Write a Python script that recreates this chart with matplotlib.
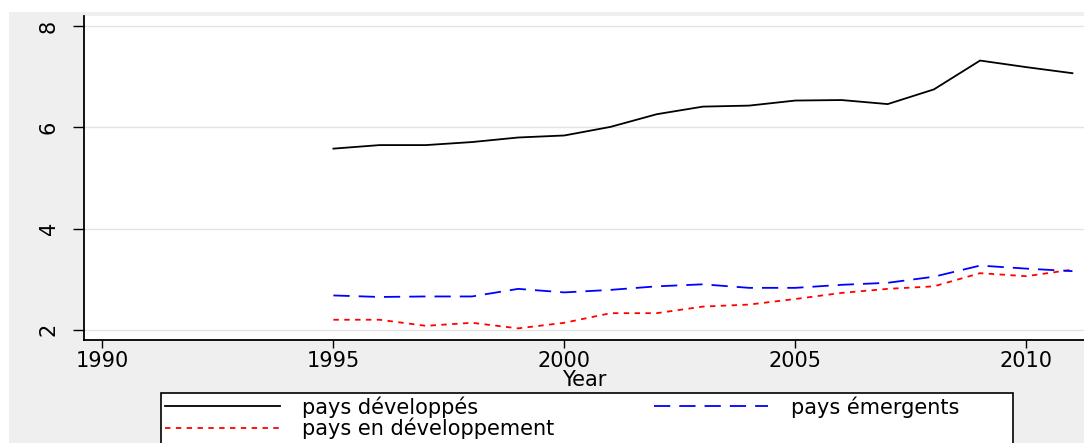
import matplotlib.pyplot as plt
from matplotlib.patches import Rectangle

years = list(range(1995, 2012))
developed = [5.58, 5.65, 5.65, 5.71, 5.80, 5.84, 6.01, 6.26, 6.41, 6.43, 6.53, 6.54, 6.46, 6.75, 7.32, 7.19, 7.07]
emerging = [2.68, 2.65, 2.66, 2.66, 2.81, 2.74, 2.79, 2.86, 2.90, 2.83, 2.83, 2.89, 2.93, 3.05, 3.27, 3.21, 3.16]
developing = [2.20, 2.20, 2.08, 2.14, 2.03, 2.14, 2.33, 2.33, 2.46, 2.50, 2.61, 2.73, 2.81, 2.86, 3.12, 3.06, 3.19]

x_ticks = [1990, 1995, 2000, 2005, 2010]
y_ticks = [2, 4, 6, 8]

W, H = 1084, 443
FS = 15
fig = plt.figure(figsize=(W / 100, H / 100), dpi=100, facecolor="white")
# grey outer region (Stata-like graph region)
fig.patches.append(Rectangle((9 / W, 0), 1, 1 - 12 / H, transform=fig.transFigure,
                             facecolor="#efefef", edgecolor="none", zorder=-10))

ax = fig.add_axes([84 / W, 1 - 340 / H, 1000 / W, 324 / H])
ax.set_facecolor("white")

l1, = ax.plot(years, developed, color="black", lw=1.3, label="pays développés")
l3, = ax.plot(years, developing, color="red", lw=1.3, linestyle=(0, (3, 3)), label="pays en développement")
l2, = ax.plot(years, emerging, color="blue", lw=1.3, linestyle=(0, (9, 5)), label="pays émergents")

ax.set_xlim(1989.6, 2011.25)
ax.set_ylim(1.80, 8.2)
ax.set_xticks(x_ticks)
ax.set_yticks(y_ticks)
ax.grid(axis="y", color="#e3e3e3", lw=1)
ax.set_axisbelow(True)

for s in ("top", "right"):
    ax.spines[s].set_visible(False)
for s in ("left", "bottom"):
    ax.spines[s].set_linewidth(1.3)

ax.tick_params(axis="y", length=8, width=1, labelsize=FS, pad=10)
ax.tick_params(axis="x", length=6, width=1, labelsize=FS, pad=2)
for lab in ax.get_yticklabels():
    lab.set_rotation(90)
    lab.set_va("center")
ax.set_xlabel("Year", fontsize=FS, labelpad=-1)

# legend entries, frame drawn separately to match the original box
leg = fig.legend(handles=[l1, l3, l2], ncol=2, frameon=False,
                 bbox_to_anchor=(165 / W, 1 - 396 / H), loc="upper left",
                 fontsize=FS, handlelength=5.5, handletextpad=1.1,
                 labelspacing=0.0, columnspacing=4.75,
                 borderaxespad=0, borderpad=0)
fig.patches.append(Rectangle((161 / W, -0.05), 852 / W, 0.05 + 1 - 393 / H,
                             transform=fig.transFigure, facecolor="white",
                             edgecolor="black", lw=1.2, zorder=-5))

fig.savefig("out.png", dpi=100, facecolor="white")
